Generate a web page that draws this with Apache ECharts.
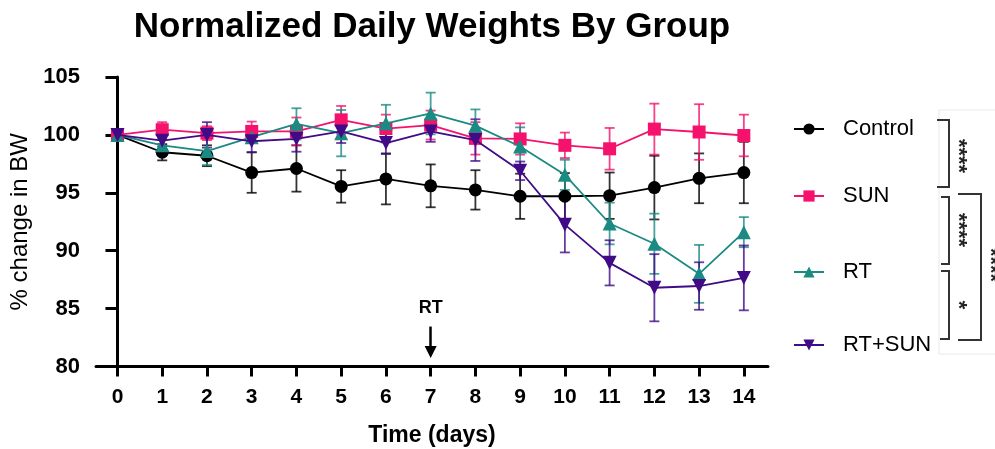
<!DOCTYPE html>
<html>
<head>
<meta charset="utf-8">
<script src="https://cdn.jsdelivr.net/npm/echarts@6/dist/echarts.min.js"></script>
<style>html,body{margin:0;padding:0;background:#fff;}#chart{width:995px;height:449px;}</style>
</head>
<body>
<div id="chart"></div>
<script>
const days = [0,1,2,3,4,5,6,7,8,9,10,11,12,13,14];
const yTicks = [80,85,90,95,100,105];
const groupNames = ['Control','SUN','RT','RT+SUN'];

const control    = [100, 98.5, 98.2, 96.75, 97.1, 95.55, 96.2, 95.6, 95.25, 94.7, 94.7, 94.75, 95.45, 96.25, 96.75];
const controlErr = [0, 0.7, 0.9, 1.75, 2.0, 1.4, 2.2, 1.85, 1.7, 1.95, 2.0, 2.0, 2.75, 2.15, 2.65];

const sun    = [100, 100.45, 100.15, 100.3, 100.3, 101.3, 100.55, 100.85, 99.7, 99.65, 99.1, 98.8, 100.5, 100.25, 99.95];
const sunErr = [0, 0.65, 0.6, 0.85, 1.2, 1.2, 1.2, 1.25, 1.4, 1.35, 1.1, 1.8, 2.2, 2.4, 1.8];

const rt    = [100, 99.1, 98.6, 99.8, 100.95, 100.15, 101.0, 101.85, 100.8, 99.0, 96.55, 92.35, 90.6, 88.0, 91.6];
const rtErr = [0, 0.5, 1.2, 0.5, 1.35, 2.0, 1.6, 1.8, 1.4, 1.65, 1.3, 1.8, 2.6, 2.5, 1.3];

const rtSun    = [100, 99.5, 100.0, 99.45, 99.65, 100.3, 99.3, 100.3, 99.55, 96.9, 92.25, 88.95, 86.8, 86.95, 87.65];
const rtSunErr = [0, 0.5, 1.1, 0.95, 1.1, 1.0, 0.95, 0.9, 1.8, 0.8, 2.4, 1.95, 2.9, 2.05, 2.8];

const rtDay = 7;
const significance = ['****','****','*','****'];

const FONT = 'Liberation Sans, Arial, Helvetica, sans-serif';
const colors = ['#000000', '#f5126d', '#1b8a83', '#410b87'];
const symbols = ['circle', 'rect', 'triangle', 'path://M0,0 L10,0 L5,9 Z'];
const symbolSizes = [13, 13, 14, 14];
const values = [control, sun, rt, rtSun];
const errs = [controlErr, sunErr, rtErr, rtSunErr];

function errRenderer(color) {
  return function (params, api) {
    const x = api.value(0), y = api.value(1), e = api.value(2);
    if (!e) return null;
    const t = api.coord([x, y + e]);
    const b = api.coord([x, y - e]);
    const hw = 5;
    const st = { stroke: color, lineWidth: 1.8, opacity: 0.8 };
    return {
      type: 'group',
      children: [
        { type: 'line', shape: { x1: t[0], y1: t[1], x2: b[0], y2: b[1] }, style: st },
        { type: 'line', shape: { x1: t[0] - hw, y1: t[1], x2: t[0] + hw, y2: t[1] }, style: st },
        { type: 'line', shape: { x1: b[0] - hw, y1: b[1], x2: b[0] + hw, y2: b[1] }, style: st }
      ]
    };
  };
}

const series = [];
groupNames.forEach((name, k) => {
  series.push({
    type: 'custom',
    name: name + ' err',
    renderItem: errRenderer(colors[k]),
    data: days.map((d, i) => [d, values[k][i], errs[k][i]]),
    encode: { x: 0, y: 1 },
    z: 2,
    silent: true
  });
});
groupNames.forEach((name, k) => {
  const s = {
    type: 'line',
    name: name,
    data: days.map((d, i) => [d, values[k][i]]),
    symbol: symbols[k],
    symbolSize: symbolSizes[k],
    lineStyle: { color: colors[k], width: 1.8 },
    itemStyle: { color: colors[k] },
    z: 3 + k,
    silent: true
  };
  if (k === 0) {
    s.markLine = {
      silent: true,
      animation: false,
      symbolSize: [12, 12],
      lineStyle: { color: '#000', width: 2.5, type: 'solid' },
      label: { show: true, position: 'start', formatter: 'RT', color: '#000', fontWeight: 'bold', fontSize: 18, fontFamily: FONT, distance: 10 },
      data: [[
        { coord: [rtDay, 83.45], symbol: 'none' },
        { coord: [rtDay, 81.25], symbol: 'triangle' }
      ]]
    };
  }
  series.push(s);
});

const legendTops = [113, 180, 256, 329];
const legends = groupNames.map((name, k) => ({
  data: [name],
  left: 788,
  top: legendTops[k],
  orient: 'vertical',
  itemWidth: 30,
  itemHeight: 14,
  selectedMode: false,
  textStyle: { fontSize: 22, fontFamily: FONT, color: '#000', padding: [0, 0, 0, 14] }
}));

const bracket = (pts) => ({ type: 'polyline', shape: { points: pts }, style: { stroke: '#333', lineWidth: 2, fill: null }, silent: true });
const faint = (pts) => ({ type: 'polyline', shape: { points: pts }, style: { stroke: '#e9e9e9', lineWidth: 1, fill: null }, silent: true });
const stars = (txt, x, y) => ({
  type: 'text', x: x, y: y, rotation: -Math.PI / 2,
  style: { text: txt, font: 'bold 22px ' + FONT, fill: '#222', align: 'center', verticalAlign: 'middle' },
  silent: true
});

const option = {
  animation: false,
  backgroundColor: '#fff',
  title: {
    text: 'Normalized Daily Weights By Group',
    left: 427, top: 5, textAlign: 'center',
    textStyle: { fontSize: 35, fontWeight: 'bold', fontFamily: FONT, color: '#000' }
  },
  legend: legends,
  grid: { left: 96, right: 227, top: 77, bottom: 82.5, containLabel: false, outerBoundsMode: 'none' },
  xAxis: {
    type: 'value', min: -0.48, max: 14.54,
    name: 'Time (days)', nameLocation: 'middle', nameGap: 58,
    nameTextStyle: { fontSize: 23, fontWeight: 'bold', fontFamily: FONT, color: '#000' },
    axisLine: { lineStyle: { color: '#000', width: 3 } },
    axisTick: { show: true, length: 10, lineStyle: { color: '#000', width: 3 }, customValues: days },
    axisLabel: { customValues: days, fontSize: 21, fontWeight: 'bold', fontFamily: FONT, color: '#000', margin: 20 },
    splitLine: { show: false }
  },
  yAxis: {
    type: 'value', min: 80, max: 105, interval: 5,
    name: '% change in BW', nameLocation: 'middle', nameGap: 62,
    nameTextStyle: { fontSize: 24, fontFamily: FONT, color: '#000' },
    axisLine: { show: true, lineStyle: { color: '#000', width: 3 } },
    axisTick: { show: true, length: 12, lineStyle: { color: '#000', width: 3 } },
    axisLabel: { fontSize: 22, fontWeight: 'bold', fontFamily: FONT, color: '#000', margin: 16 },
    splitLine: { show: false }
  },
  graphic: [
    faint([[938, 110], [995, 110]]),
    faint([[939, 110], [939, 354]]),
    faint([[939, 354], [995, 354]]),
    bracket([[937, 120], [949, 120], [949, 187], [937, 187]]),
    bracket([[941, 197], [949, 197], [949, 264], [941, 264]]),
    bracket([[941, 271], [949, 271], [949, 339], [940, 339]]),
    bracket([[958, 194], [981, 194], [981, 340], [958, 340]]),
    stars(significance[0], 958, 156),
    stars(significance[1], 958, 230),
    stars(significance[2], 958, 305),
    stars(significance[3], 990, 265)
  ],
  series: series
};

const chart = echarts.init(document.getElementById('chart'), null, { renderer: 'canvas' });
chart.setOption(option);
</script>
</body>
</html>
